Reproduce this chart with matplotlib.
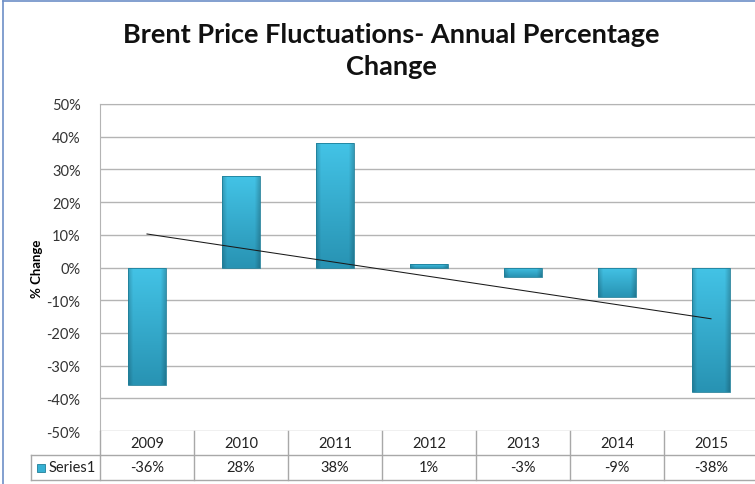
import numpy as np
import matplotlib
matplotlib.use("Agg")
import matplotlib.pyplot as plt
from matplotlib.lines import Line2D
from matplotlib.patches import Rectangle
from matplotlib.colors import to_rgb

years = ["2009", "2010", "2011", "2012", "2013", "2014", "2015"]
values = [-36, 28, 38, 1, -3, -9, -38]
value_labels = ["-36%", "28%", "38%", "1%", "-3%", "-9%", "-38%"]
series_name = "Series1"
title = "Brent Price Fluctuations- Annual Percentage\nChange"
ylabel = "% Change"
yticks = [-50, -40, -30, -20, -10, 0, 10, 20, 30, 40, 50]

plt.rcParams['font.family'] = ['Lato', 'DejaVu Sans']

W, H = 755, 485
fig = plt.figure(figsize=(W / 100, H / 100), dpi=100)
fig.patch.set_facecolor("white")

def px(x0, y0, x1, y1):
    # pixel box (top-left origin) -> figure fraction rect
    return [x0 / W, 1 - y1 / H, (x1 - x0) / W, (y1 - y0) / H]

ax_l, ax_t, ax_r, ax_b = 100, 105, 758, 432
ax = fig.add_axes(px(ax_l, ax_t, ax_r, ax_b))
x = np.arange(len(years))
ax.set_xlim(-0.5, len(years) - 0.5)
ax.set_ylim(-50, 50)

grid_c = "#b4b4b4"
for t in yticks:
    ax.axhline(t, color=grid_c, lw=1.0, zorder=0)
for s in ["right", "bottom"]:
    ax.spines[s].set_visible(False)
ax.spines["left"].set_color(grid_c)
ax.spines["top"].set_color(grid_c)
ax.set_xticks([])
ax.set_yticks(yticks)
ax.set_yticklabels([f"{t}%" for t in yticks], fontsize=10.5, color="#333333")
ax.tick_params(axis="y", length=0, pad=14)
ax.set_ylabel(ylabel, fontsize=9.5, fontweight="bold")
ax.yaxis.set_label_coords(-0.087, 0.5)

bars = ax.bar(x, values, width=0.4, color="none", edgecolor="#1f7f99", lw=0.6, zorder=3)

light = np.array(to_rgb("#43c3e6"))
dark = np.array(to_rgb("#2893b3"))
nv, nh = 64, 32
vt = np.linspace(0, 1, nv)[:, None, None]
grad = light * (1 - vt) + dark * vt
hh = np.linspace(-1, 1, nh)
hfac = 1 - 0.18 * np.clip((np.abs(hh) - 0.75) / 0.25, 0, 1)
img = np.clip(grad * hfac[None, :, None], 0, 1)
for b in bars:
    x0, y0 = b.get_x(), b.get_y()
    w, h = b.get_width(), b.get_height()
    lo, hi = min(y0, y0 + h), max(y0, y0 + h)
    im = ax.imshow(img, extent=[x0, x0 + w, lo, hi], origin="upper",
                   aspect="auto", zorder=2, interpolation="bilinear")
    im.set_clip_path(b)

# linear trendline computed from the data
coef = np.polyfit(x, values, 1)
ax.plot(x, np.polyval(coef, x), color="#1a1a1a", lw=0.75, zorder=4)

# data table
tab_c = "#a8a8a8"
r1, r2, r3 = 432, 456, 481
cat_w = (ax_r - ax_l) / len(years)
lines = []
lines.append(((ax_l, r2), (758, r2)))
lines.append(((31, r2), (31, r3)))
lines.append(((31, r3), (758, r3)))
lines.append(((31, r2), (ax_l, r2)))
for i in range(len(years) + 1):
    xx = ax_l + i * cat_w
    lines.append(((xx, r1), (xx, r3)))
for (a, b_) in lines:
    fig.add_artist(Line2D([a[0] / W, b_[0] / W], [1 - a[1] / H, 1 - b_[1] / H],
                          color=tab_c, lw=1.0))
for i, (yr, lab) in enumerate(zip(years, value_labels)):
    cx = (ax_l + (i + 0.5) * cat_w) / W
    fig.text(cx, 1 - (r1 + r2) / 2 / H, yr, ha="center", va="center",
             fontsize=10.5, color="#222222")
    fig.text(cx, 1 - (r2 + r3) / 2 / H, lab, ha="center", va="center",
             fontsize=10.5, color="#222222")
fig.add_artist(Rectangle((37 / W, 1 - 473 / H), 8 / W, 8 / H,
                         facecolor="#36b0d3", edgecolor="#1f7f99", lw=0.6))
fig.text(49 / W, 1 - (r2 + r3) / 2 / H, series_name, ha="left", va="center",
         fontsize=10.5, color="#222222")

fig.text(391 / W, 1 - 51 / H, title, ha="center", va="center", fontsize=19.5,
         fontweight="bold", color="#111111", linespacing=1.42)

# outer chart border
fig.add_artist(Line2D([3 / W, 3 / W], [0, 1 - 1.5 / H], color="#6d8fc7", lw=1.2))
fig.add_artist(Line2D([3 / W, 1], [1 - 1.5 / H, 1 - 1.5 / H], color="#6d8fc7", lw=1.2))

fig.savefig("out.png", dpi=100, facecolor="white")
